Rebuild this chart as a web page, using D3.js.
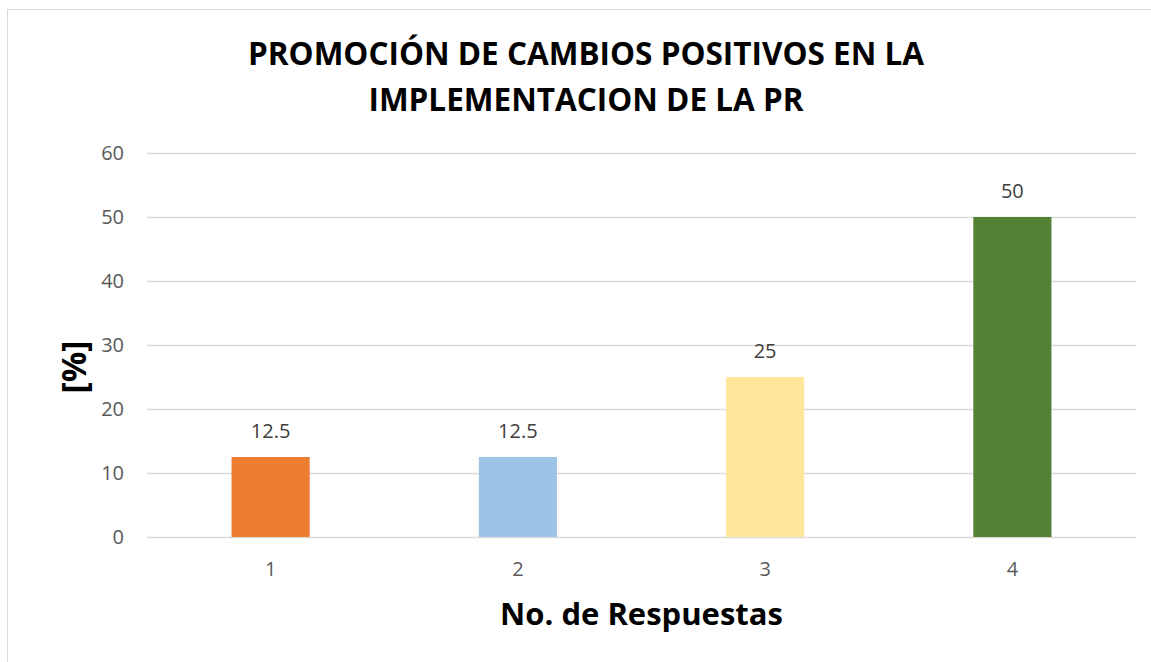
<!DOCTYPE html>
<html>
<head>
<meta charset="utf-8">
<script src="https://cdn.jsdelivr.net/npm/d3@7"></script>
<style>
  body { margin: 0; background: #fff; }
  text { font-family: "Open Sans", sans-serif; }
</style>
</head>
<body>
<script>
var categories = ["1", "2", "3", "4"];
var values = [12.5, 12.5, 25, 50];
var barColors = ["#ED7D31", "#9DC3E6", "#FFE699", "#548235"];
var yTicks = [0, 10, 20, 30, 40, 50, 60];
var titleLines = ["PROMOCIÓN DE CAMBIOS POSITIVOS EN LA", "IMPLEMENTACION DE LA PR"];

var width = 1151, height = 662;
var plotLeft = 147, plotRight = 1136, plotTop = 153, plotBottom = 537;

var svg = d3.select("body")
            .append("svg")
            .attr("width", width)
            .attr("height", height);

svg.append("rect")
   .attr("x", 7.5)
   .attr("y", 9.5)
   .attr("width", width + 20)
   .attr("height", height + 20)
   .attr("fill", "white")
   .attr("stroke", "#d9d9d9")
   .attr("stroke-width", 1);

var x = d3.scaleBand()
          .domain(categories)
          .range([plotLeft, plotRight])
          .paddingInner(0.684)
          .paddingOuter(0.342);

var y = d3.scaleLinear()
          .domain([0, 60])
          .range([plotBottom, plotTop]);

// gridlines + y labels
var yAxis = svg.append("g")
               .attr("transform", "translate(" + plotLeft + ",0)")
               .call(d3.axisLeft(y).tickValues(yTicks).tickSize(-(plotRight - plotLeft)).tickPadding(23));
yAxis.select(".domain").remove();
yAxis.selectAll(".tick line").attr("stroke", "#d9d9d9").attr("stroke-width", 1.3);
yAxis.selectAll(".tick text")
     .attr("font-size", 20)
     .attr("fill", "#595959")
     .attr("font-family", "Open Sans");

// x labels
var xAxis = svg.append("g")
               .attr("transform", "translate(0," + plotBottom + ")")
               .call(d3.axisBottom(x).tickSize(0).tickPadding(25));
xAxis.select(".domain").remove();
xAxis.selectAll(".tick text")
     .attr("font-size", 20)
     .attr("fill", "#595959")
     .attr("font-family", "Open Sans");

// bars
svg.selectAll(".bar")
   .data(values)
   .enter()
   .append("rect")
   .attr("x", function(d, i) { return x(categories[i]); })
   .attr("y", function(d) { return y(d); })
   .attr("width", x.bandwidth())
   .attr("height", function(d) { return y(0) - y(d); })
   .attr("fill", function(d, i) { return barColors[i]; });

// data labels
svg.selectAll(".lbl")
   .data(values)
   .enter()
   .append("text")
   .attr("x", function(d, i) { return x(categories[i]) + x.bandwidth() / 2; })
   .attr("y", function(d) { return y(d) - 19; })
   .attr("text-anchor", "middle")
   .attr("font-size", 20)
   .attr("fill", "#404040")
   .text(function(d) { return d; });

// title
svg.selectAll(".title")
   .data(titleLines)
   .enter()
   .append("text")
   .attr("x", 586)
   .attr("y", function(d, i) { return 65 + i * 46; })
   .attr("text-anchor", "middle")
   .attr("font-size", 31.5)
   .attr("font-weight", "bold")
   .attr("fill", "black")
   .text(function(d) { return d; });

// axis titles
svg.append("text")
   .attr("x", (plotLeft + plotRight) / 2)
   .attr("y", 625)
   .attr("text-anchor", "middle")
   .attr("font-size", 31)
   .attr("font-weight", "bold")
   .attr("fill", "black")
   .text("No. de Respuestas");

svg.append("text")
   .attr("transform", "translate(86,367) rotate(-90)")
   .attr("text-anchor", "middle")
   .attr("font-size", 34)
   .attr("font-weight", "bold")
   .attr("fill", "black")
   .text("[%]");
</script>
</body>
</html>
